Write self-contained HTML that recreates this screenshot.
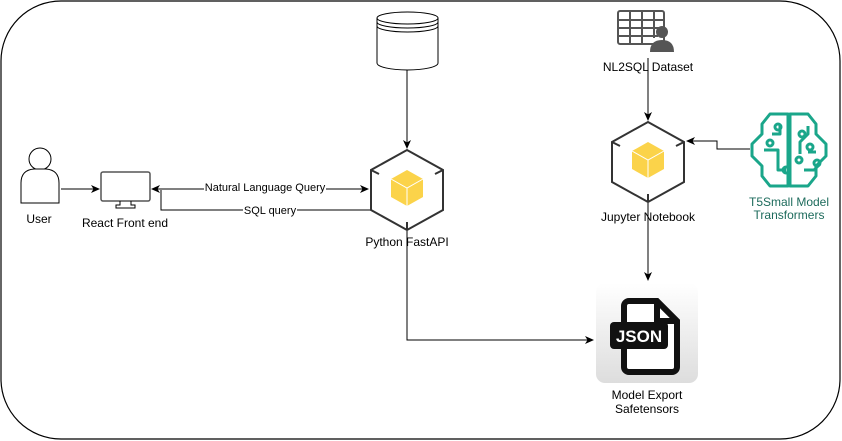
<!DOCTYPE html>
<html><head><style>body{margin:0;background:#fff}svg{display:block}text{font-family:"Liberation Sans",sans-serif;font-size:12px;fill:#000}text.e{font-size:11px}</style></head><body>
<svg width="842" height="441" viewBox="0 0 842 441" xmlns="http://www.w3.org/2000/svg">
<defs>
<marker id="a" markerWidth="10" markerHeight="10" refX="8" refY="5" orient="auto" markerUnits="userSpaceOnUse"><path d="M0,1 L9,5 L0,9 L2.5,5 Z" fill="#000"/></marker>
<linearGradient id="g" x1="0" y1="0" x2="0" y2="1"><stop offset="0" stop-color="#fff"/><stop offset="1" stop-color="#ddd"/></linearGradient>
</defs>
<rect x="1" y="1" width="839" height="438" rx="60" fill="#fff" stroke="#000" stroke-width="1.2"/>
<path d="M377,18 v45 a30.5,7 0 0 0 61,0 v-45" fill="#fff" stroke="#000"/>
<ellipse cx="407.5" cy="18" rx="30.5" ry="6" fill="#fff" stroke="#000"/>
<path d="M377,22 a30.5,6 0 0 0 61,0 M377,26 a30.5,6 0 0 0 61,0" fill="none" stroke="#000"/>
<line x1="407" y1="70" x2="407" y2="148" stroke="#000" marker-end="url(#a)"/>
<line x1="648" y1="58" x2="648" y2="120" stroke="#000" marker-end="url(#a)"/>
<polyline points="750,149 717,149 717,141 687,141" fill="none" stroke="#000" marker-end="url(#a)"/>
<line x1="648" y1="202" x2="648" y2="280" stroke="#000" marker-end="url(#a)"/>
<polyline points="407,230 407,340 593,340" fill="none" stroke="#000" marker-end="url(#a)"/>
<line x1="61" y1="189" x2="99" y2="189" stroke="#000" marker-end="url(#a)"/>
<line x1="265" y1="189" x2="368" y2="189" stroke="#000" marker-end="url(#a)"/>
<line x1="265" y1="189" x2="152" y2="189" stroke="#000" marker-end="url(#a)"/>
<polyline points="371,210 161,210 161,190" fill="none" stroke="#000"/>
<rect x="204" y="181" width="122" height="13" fill="#fff"/>
<text class="e" x="265" y="191" text-anchor="middle">Natural Language Query</text>
<rect x="243" y="203" width="54" height="13" fill="#fff"/>
<text class="e" x="270" y="214" text-anchor="middle">SQL query</text>
<circle cx="40" cy="159" r="11" fill="#fff" stroke="#000"/>
<path d="M21,203 v-20 q0,-13 13,-14 h12 q13,1 13,14 v20 z" fill="#fff" stroke="#000"/>
<text x="39" y="223" text-anchor="middle">User</text>
<rect x="101" y="172" width="49" height="29" rx="2" fill="#fff" stroke="#555" stroke-width="1.5"/>
<path d="M120,201 v4 h-4 v3 h19 v-3 h-4 v-4" fill="none" stroke="#000"/>
<text x="125" y="227" text-anchor="middle">React Front end</text>
<g stroke="#333" stroke-width="2" fill="none">
<polygon points="407,150 443,170 443,210 407,230 371,210 371,170" fill="#fff"/>
<path d="M371,170 l8,4 M443,170 l-8,4 M407,230 v-8"/>
</g>
<g transform="translate(407,188)"><polygon points="0,-18 16,-9 16,9 0,18 -16,9 -16,-9" fill="#fbd34a"/><path d="M-16,-9 L0,0 L16,-9 M0,0 V18" stroke="#fff" stroke-width="1" fill="none"/></g>
<text x="407" y="246" text-anchor="middle">Python FastAPI</text>
<g stroke="#333" stroke-width="2" fill="none">
<polygon points="648,122 684,142 684,182 648,202 612,182 612,142" fill="#fff"/>
<path d="M612,142 l8,4 M684,142 l-8,4 M648,202 v-8"/>
</g>
<g transform="translate(648,160)"><polygon points="0,-18 16,-9 16,9 0,18 -16,9 -16,-9" fill="#fbd34a"/><path d="M-16,-9 L0,0 L16,-9 M0,0 V18" stroke="#fff" stroke-width="1" fill="none"/></g>
<text x="648" y="221" text-anchor="middle">Jupyter Notebook</text>
<g fill="#fff" stroke="#555" stroke-width="2"><rect x="618" y="11" width="46" height="33" rx="2"/><path d="M618,20 h46 M618,28 h46 M618,36 h40 M630,11 v33 M642,11 v33 M654,11 v27"/></g>
<circle cx="662" cy="32" r="6" fill="#555"/>
<path d="M650,52 q0,-12 12,-12 q12,0 12,12 z" fill="#555"/>
<text x="648" y="71" text-anchor="middle">NL2SQL Dataset</text>
<g fill="none" stroke="#1aa68a" stroke-width="3" stroke-linejoin="round">
<path d="M788,114 h-18 l-8,10 v10 l-10,10 v12 l10,10 v10 l8,10 h18 z"/>
<path d="M790,114 h18 l8,10 v10 l10,10 v12 l-10,10 v10 l-8,10 h-18 z"/>
<path d="M780,124 v10 h-8 M764,150 h14 v20 h8 M808,126 v8 l-8,8 v12 M816,152 h-8 M804,170 h10 l6,-6"/>
<circle cx="778" cy="127" r="3"/><circle cx="770" cy="143" r="3"/><circle cx="802" cy="134" r="3"/><circle cx="810" cy="147" r="3"/><circle cx="799" cy="160" r="3"/><circle cx="786" cy="170" r="3"/><circle cx="817" cy="163" r="3"/>
</g>
<text x="789" y="206" text-anchor="middle" style="fill:#1d6b5c">T5Small Model</text>
<text x="789" y="219" text-anchor="middle" style="fill:#1d6b5c">Transformers</text>
<rect x="596" y="283" width="102" height="100" rx="9" fill="url(#g)"/>
<path d="M629,301 h28 l20,20 v46 a5,5 0 0 1 -5,5 h-43 a5,5 0 0 1 -5,-5 v-61 a5,5 0 0 1 5,-5 z" fill="#fff" stroke="#111" stroke-width="6"/>
<path d="M657,301 v20 h20" fill="none" stroke="#111" stroke-width="6"/>
<rect x="610" y="322" width="58" height="27" rx="4" fill="#111"/>
<text x="639" y="342" text-anchor="middle" style="fill:#fff;font-weight:bold;font-size:17px">JSON</text>
<text x="647" y="399" text-anchor="middle">Model Export</text>
<text x="647" y="413" text-anchor="middle">Safetensors</text>
</svg>
</body></html>
